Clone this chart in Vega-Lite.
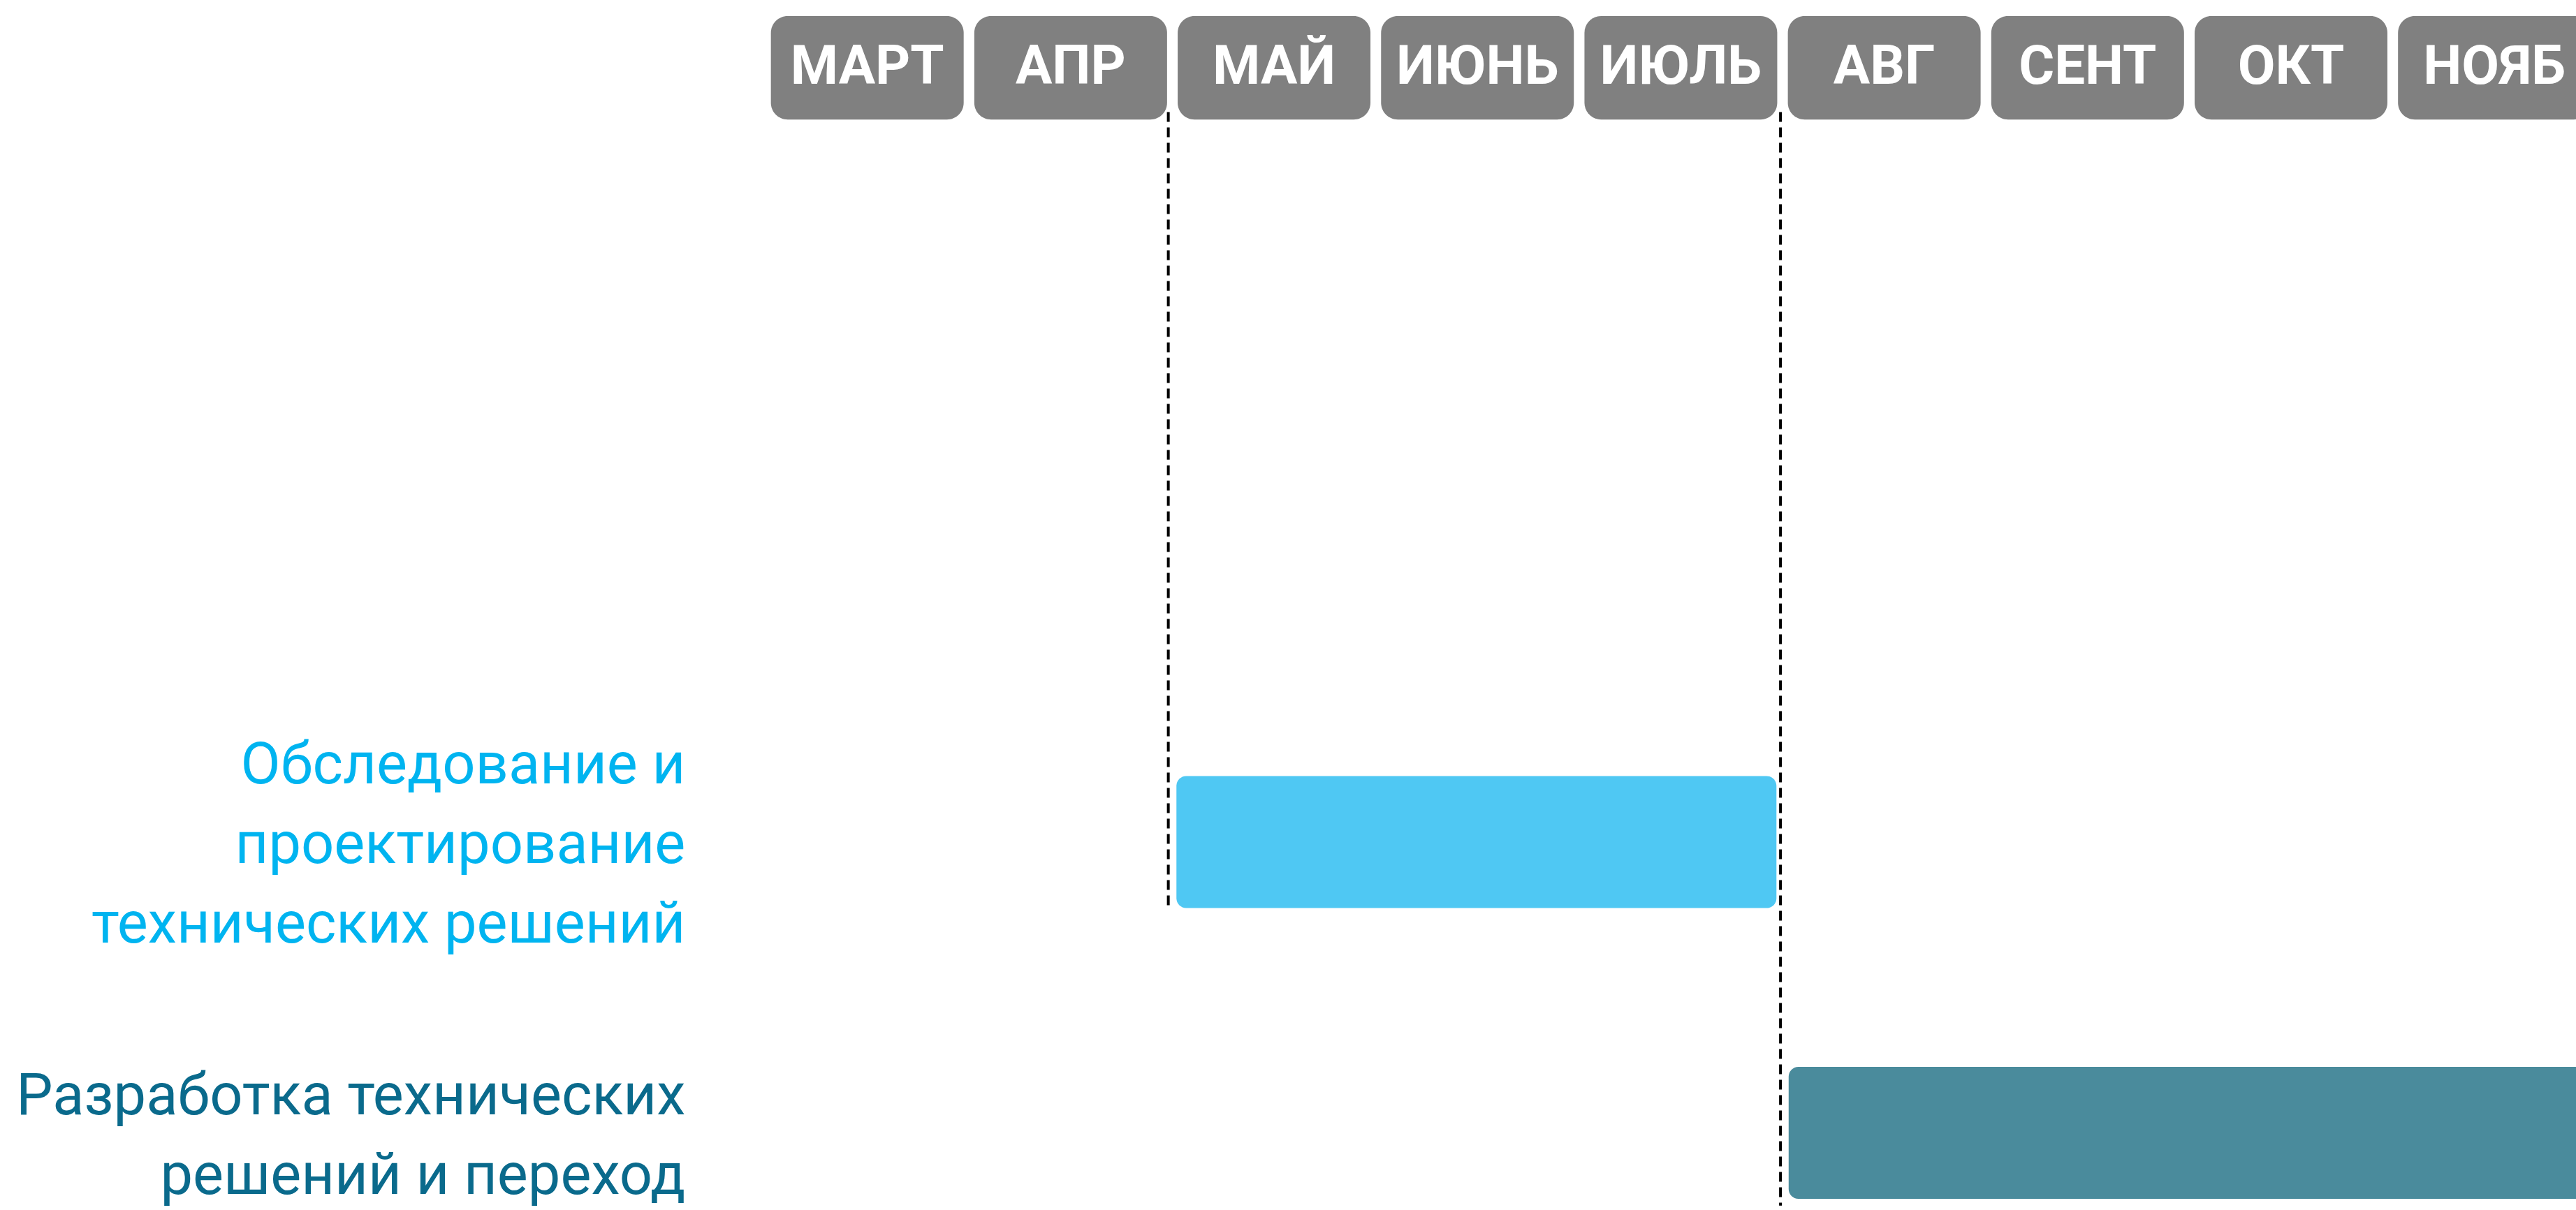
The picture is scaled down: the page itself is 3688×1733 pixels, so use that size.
{
  "$schema": "https://vega.github.io/schema/vega-lite/v6.json",
  "width": 3688,
  "height": 1733,
  "autosize": "none",
  "padding": 0,
  "background": "#ffffff",
  "view": {"stroke": null},
  "datasets": {
    "months": [
      {"month": "МАРТ", "m": 3},
      {"month": "АПР", "m": 4},
      {"month": "МАЙ", "m": 5},
      {"month": "ИЮНЬ", "m": 6},
      {"month": "ИЮЛЬ", "m": 7},
      {"month": "АВГ", "m": 8},
      {"month": "СЕНТ", "m": 9},
      {"month": "ОКТ", "m": 10},
      {"month": "НОЯБ", "m": 11}
    ],
    "tasks": [
      {"task": "Обследование", "lines": ["Обследование и", "проектирование", "технических решений"], "row": 1, "start": 4.52, "end": 7.47},
      {"task": "Разработка", "lines": ["Разработка технических", "решений и переход"], "row": 2, "start": 7.53, "end": 12}
    ],
    "milestones": [
      {"x": 4.48, "from": -1.51, "to": 1.22},
      {"x": 7.49, "from": -1.51, "to": 2.25}
    ]
  },
  "layer": [
    {
      "data": {"name": "months"},
      "mark": {"type": "bar", "color": "#808080", "size": 276, "cornerRadius": 24},
      "encoding": {
        "x": {"field": "m", "type": "quantitative", "scale": {"domain": [-1.247, 11.384], "nice": false, "zero": false}, "axis": null},
        "y": {"datum": -1.84, "type": "quantitative", "scale": {"domain": [-1.883, 2.253], "reverse": true, "nice": false, "zero": false}, "axis": null},
        "y2": {"datum": -1.484}
      }
    },
    {
      "data": {"name": "months"},
      "mark": {"type": "text", "color": "#ffffff", "font": "Roboto", "fontWeight": "bold", "fontSize": 78, "baseline": "alphabetic", "align": "center"},
      "encoding": {
        "x": {"field": "m", "type": "quantitative"},
        "y": {"datum": -1.606, "type": "quantitative"},
        "text": {"field": "month"}
      }
    },
    {
      "data": {"name": "milestones"},
      "mark": {"type": "rule", "color": "#000000", "strokeWidth": 4, "strokeDash": [14, 8]},
      "encoding": {
        "x": {"field": "x", "type": "quantitative"},
        "y": {"field": "from", "type": "quantitative"},
        "y2": {"field": "to"}
      }
    },
    {
      "data": {"name": "tasks"},
      "mark": {"type": "bar", "size": 189, "cornerRadius": 14, "clip": true},
      "encoding": {
        "x": {"field": "start", "type": "quantitative"},
        "x2": {"field": "end"},
        "y": {"field": "row", "type": "quantitative"},
        "color": {"field": "task", "type": "nominal", "scale": {"domain": ["Обследование", "Разработка"], "range": ["#4FC8F3", "#4A8B9C"]}, "legend": null}
      }
    },
    {
      "data": {"name": "tasks"},
      "transform": [{"filter": "datum.row == 1"}],
      "mark": {"type": "text", "align": "right", "baseline": "alphabetic", "font": "Roboto", "fontSize": 83, "lineHeight": 114, "dy": -84},
      "encoding": {
        "x": {"datum": 2.106, "type": "quantitative"},
        "y": {"field": "row", "type": "quantitative"},
        "text": {"field": "lines"},
        "color": {"field": "task", "type": "nominal", "scale": {"domain": ["Обследование", "Разработка"], "range": ["#00B4F0", "#0A6A8C"]}, "legend": null}
      }
    },
    {
      "data": {"name": "tasks"},
      "transform": [{"filter": "datum.row == 2"}],
      "mark": {"type": "text", "align": "right", "baseline": "alphabetic", "font": "Roboto", "fontSize": 83, "lineHeight": 114, "dy": -27},
      "encoding": {
        "x": {"datum": 2.106, "type": "quantitative"},
        "y": {"field": "row", "type": "quantitative"},
        "text": {"field": "lines"},
        "color": {"field": "task", "type": "nominal", "scale": {"domain": ["Обследование", "Разработка"], "range": ["#00B4F0", "#0A6A8C"]}, "legend": null}
      }
    }
  ],
  "resolve": {"scale": {"color": "independent"}}
}
